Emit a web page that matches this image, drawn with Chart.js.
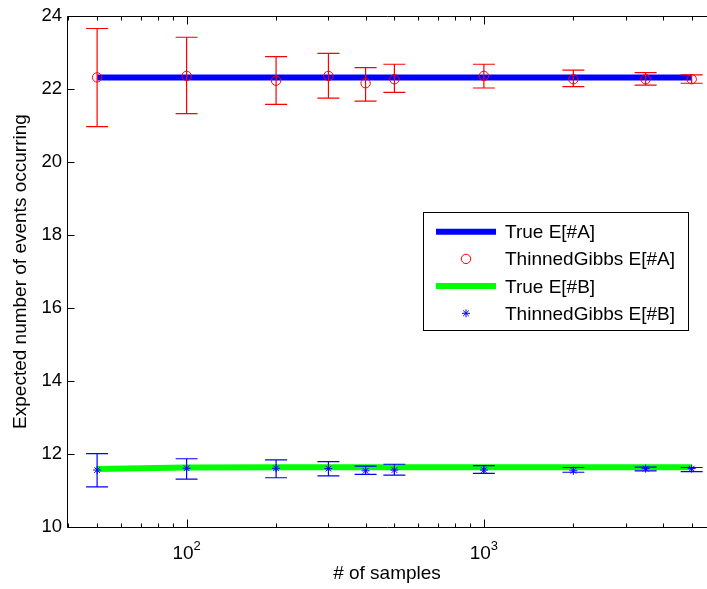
<!DOCTYPE html>
<html>
<head>
<meta charset="utf-8">
<script src="https://cdn.jsdelivr.net/npm/chart.js@4.4.1/dist/chart.umd.min.js"></script>
<style>
  html, body { margin: 0; padding: 0; overflow: hidden; background: #fff; }
</style>
</head>
<body>
<canvas id="myChart" width="707" height="589"></canvas>
<script>
// sample sizes (x) and the series
const samples = [50, 100, 200, 300, 400, 500, 1000, 2000, 3500, 5000];
const trueA = [22.32, 22.32, 22.32, 22.32, 22.32, 22.32, 22.32, 22.32, 22.32, 22.32];
const gibbsA = [22.32, 22.36, 22.23, 22.36, 22.16, 22.27, 22.36, 22.27, 22.27, 22.27];
const gibbsALow = [20.97, 21.33, 21.58, 21.75, 21.67, 21.91, 22.03, 22.07, 22.11, 22.16];
const gibbsAHigh = [23.66, 23.42, 22.89, 22.98, 22.59, 22.68, 22.68, 22.52, 22.45, 22.39];
const trueB = [11.59, 11.63, 11.64, 11.64, 11.64, 11.64, 11.64, 11.64, 11.64, 11.64];
const gibbsB = [11.56, 11.61, 11.61, 11.60, 11.54, 11.56, 11.56, 11.54, 11.60, 11.60];
const gibbsBLow = [11.10, 11.31, 11.35, 11.40, 11.44, 11.42, 11.47, 11.50, 11.54, 11.52];
const gibbsBHigh = [12.01, 11.87, 11.84, 11.79, 11.67, 11.72, 11.68, 11.63, 11.64, 11.63];
const seriesLabels = ['True E[#A]', 'ThinnedGibbs E[#A]', 'True E[#B]', 'ThinnedGibbs E[#B]'];
const xMajorTicks = [100, 1000];

const FONT = 'Liberation Sans, Arial, sans-serif';
Chart.defaults.font.family = FONT;
Chart.defaults.color = '#000';

function pts(ys) {
    return samples.map((s, i) => ({ x: s, y: ys[i] }));
}

// error bars, box with inward ticks, x labels with exponents, legend
const matlabAxes = {
    id: 'matlabAxes',
    afterDatasetsDraw(chart) {
        const { ctx, scales: { x, y } } = chart;
        const bars = [
            [gibbsALow, gibbsAHigh, 'rgb(255,0,0)'],
            [gibbsBLow, gibbsBHigh, 'rgb(0,0,255)']
        ];
        ctx.save();
        ctx.lineWidth = 1.2;
        bars.forEach(([lo, hi, col]) => {
            ctx.strokeStyle = col;
            samples.forEach((s, i) => {
                const px = x.getPixelForValue(s);
                const y1 = y.getPixelForValue(lo[i]);
                const y2 = y.getPixelForValue(hi[i]);
                ctx.beginPath();
                ctx.moveTo(px, y1); ctx.lineTo(px, y2);
                ctx.moveTo(px - 11, y1); ctx.lineTo(px + 11, y1);
                ctx.moveTo(px - 11, y2); ctx.lineTo(px + 11, y2);
                ctx.stroke();
            });
        });
        ctx.restore();
    },
    afterDraw(chart) {
        const { ctx, chartArea: { left, right, top, bottom }, scales: { x, y } } = chart;
        ctx.save();
        ctx.strokeStyle = '#000';
        ctx.lineWidth = 1;
        const L = Math.round(left) + 0.5, R = Math.round(right) + 0.5;
        const T = Math.round(top) + 0.5, B = Math.round(bottom) + 0.5;
        ctx.beginPath();
        ctx.moveTo(R, T); ctx.lineTo(L, T); ctx.lineTo(L, B); ctx.lineTo(R, B);
        // y ticks
        y.ticks.forEach(t => {
            const py = Math.round(y.getPixelForValue(t.value)) + 0.5;
            ctx.moveTo(L, py); ctx.lineTo(L + 7, py);
        });
        // x ticks (log, major + minor)
        for (let d = 1; d <= 1000; d *= 10) {
            for (let m = 1; m <= 9; m++) {
                const v = m * d;
                if (v < x.min || v > x.max) continue;
                const px = Math.round(x.getPixelForValue(v)) + 0.5;
                const len = m === 1 ? 8 : 4;
                ctx.moveTo(px, B); ctx.lineTo(px, B - len);
                ctx.moveTo(px, T); ctx.lineTo(px, T + len);
            }
        }
        ctx.stroke();

        // x tick labels 10^n
        ctx.fillStyle = '#000';
        ctx.textBaseline = 'alphabetic';
        ctx.textAlign = 'left';
        xMajorTicks.forEach(v => {
            const px = x.getPixelForValue(v);
            const exp = String(Math.round(Math.log10(v)));
            ctx.font = '19px ' + FONT;
            const w1 = ctx.measureText('10').width;
            ctx.font = '13px ' + FONT;
            const w2 = ctx.measureText(exp).width;
            const x0 = px - (w1 + w2) / 2;
            ctx.font = '19px ' + FONT;
            ctx.fillText('10', x0, 559);
            ctx.font = '13px ' + FONT;
            ctx.fillText(exp, x0 + w1, 550);
        });

        // legend
        const bx = 423.5, by = 212.5, bw = 265, bh = 118;
        ctx.fillStyle = '#fff';
        ctx.fillRect(bx, by, bw, bh);
        ctx.strokeStyle = '#000';
        ctx.lineWidth = 1;
        ctx.strokeRect(bx, by, bw, bh);
        chart.data.datasets.forEach((ds, i) => {
            const ey = 231.7 + i * 27.2;
            if (ds.showLine) {
                ctx.strokeStyle = ds.borderColor;
                ctx.lineWidth = ds.borderWidth;
                ctx.beginPath();
                ctx.moveTo(436, ey); ctx.lineTo(496, ey);
                ctx.stroke();
            } else {
                ctx.strokeStyle = ds.borderColor;
                ctx.fillStyle = 'rgba(0,0,0,0)';
                ctx.lineWidth = ds.borderWidth;
                Chart.helpers.drawPoint(ctx, {
                    pointStyle: ds.pointStyle, radius: ds.pointRadius,
                    borderWidth: ds.borderWidth, rotation: 0
                }, 466, ey);
            }
            ctx.fillStyle = '#000';
            ctx.font = '19px ' + FONT;
            ctx.fillText(seriesLabels[i], 505, ey + 6.5);
        });
        ctx.restore();
    }
};

const ctx = document.getElementById('myChart').getContext('2d');
new Chart(ctx, {
    type: 'line',
    data: {
        datasets: [
            {
                label: seriesLabels[0], data: pts(trueA), showLine: true,
                borderColor: 'rgb(0,0,255)', borderWidth: 6, pointRadius: 0, order: 1
            },
            {
                label: seriesLabels[1], data: pts(gibbsA), showLine: false,
                borderColor: 'rgb(255,0,0)', backgroundColor: 'rgba(0,0,0,0)',
                borderWidth: 1, pointStyle: 'circle', pointRadius: 4.7, order: 0
            },
            {
                label: seriesLabels[2], data: pts(trueB), showLine: true,
                borderColor: 'rgb(0,255,0)', borderWidth: 6, pointRadius: 0, order: 1
            },
            {
                label: seriesLabels[3], data: pts(gibbsB), showLine: false,
                borderColor: 'rgb(0,0,255)', backgroundColor: 'rgba(0,0,0,0)',
                borderWidth: 1, pointStyle: 'star', pointRadius: 4, order: 0
            }
        ]
    },
    options: {
        responsive: false,
        animation: false,
        devicePixelRatio: 1,
        layout: { autoPadding: false, padding: { top: 16, right: 0, left: 0, bottom: 0 } },
        plugins: { legend: { display: false }, tooltip: { enabled: false } },
        scales: {
            x: {
                type: 'logarithmic', min: 39.6, max: 5630,
                grid: { display: false, drawTicks: false },
                border: { display: false },
                ticks: { display: false },
                title: { display: true, text: '# of samples', font: { size: 19 }, padding: { top: 0, bottom: 3.5 } },
                afterFit(s) { s.height = 62; }
            },
            y: {
                min: 10, max: 24,
                grid: { display: false, drawTicks: false },
                border: { display: false },
                ticks: { stepSize: 2, padding: 5, font: { size: 18.5 } },
                title: { display: true, text: 'Expected number of events occurring', font: { size: 19 }, padding: { top: 9, bottom: 0 } },
                afterFit(s) { s.width = 67; }
            }
        }
    },
    plugins: [matlabAxes]
});
</script>
</body>
</html>
